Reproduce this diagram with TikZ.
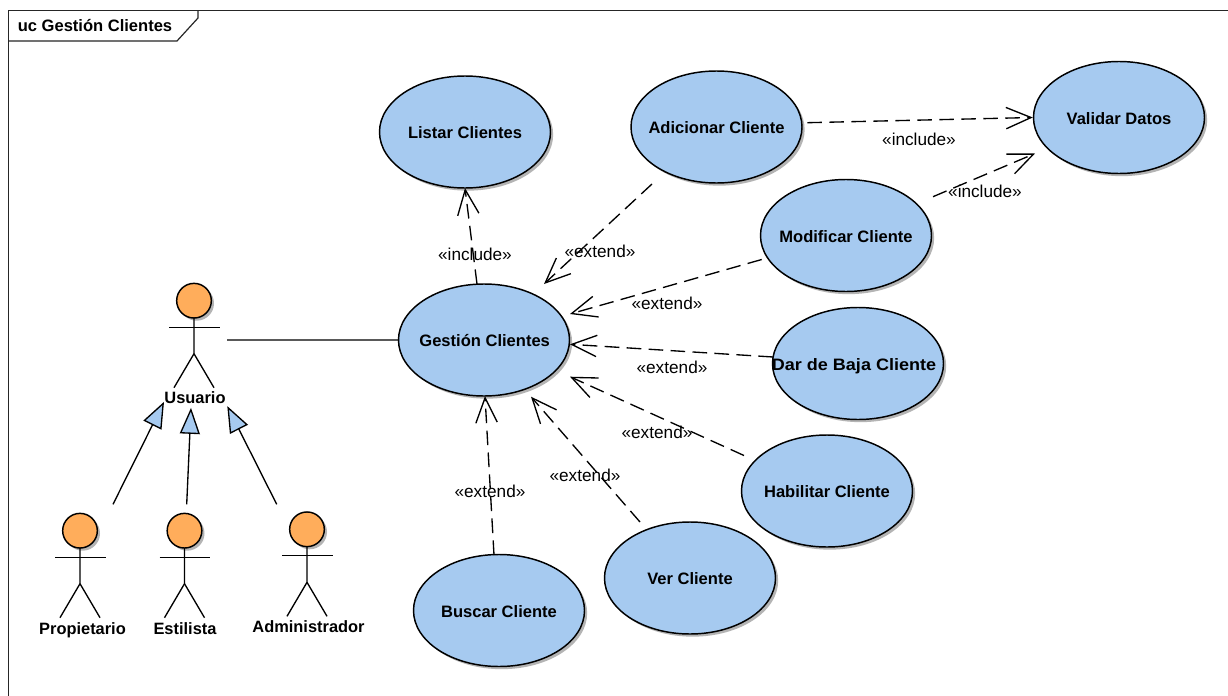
\documentclass[tikz,border=0pt]{standalone}
\usepackage{fontspec}
\setmainfont{Liberation Sans}
\usetikzlibrary{shapes.geometric,arrows.meta,shadows}
\definecolor{ucblue}{HTML}{A6CAF0}
\definecolor{ucorange}{HTML}{FFAD5B}
\definecolor{ucshadow}{HTML}{B4B4B4}
\tikzset{
  usecase/.style={shape=ellipse,draw=black,line width=1.1pt,fill=ucblue,minimum width=128.25pt,minimum height=84pt,inner sep=0pt,
    drop shadow={shadow xshift=2pt,shadow yshift=-2pt,fill=ucshadow,opacity=1},font=\fontsize{12.4pt}{14pt}\selectfont\bfseries},
  acthead/.style={shape=circle,draw=black,line width=1.1pt,fill=ucorange,minimum size=26pt,inner sep=0pt,
    drop shadow={shadow xshift=2pt,shadow yshift=-2pt,fill=ucshadow,opacity=1}},
  actlabel/.style={font=\fontsize{12.3pt}{14pt}\selectfont\bfseries,inner sep=0pt,anchor=base},
  stereo/.style={font=\fontsize{12.9pt}{14pt}\selectfont,inner sep=0pt},
  limb/.style={draw=black,line width=1pt},
  dep/.style={draw=black,line width=1pt,dash pattern=on 11pt off 5.5pt,-{Straight Barb[length=18.75pt,width=16pt,line width=1pt]}},
  gen/.style={draw=black,line width=1pt,-{Triangle[length=19.5pt,width=15pt,fill=ucblue,line width=1pt]}},
  assoc/.style={draw=black,line width=1pt},
  framel/.style={draw=black!85,line width=0.9pt}
}
\newcommand{\stick}[1]{%
  \draw[limb] ([shift={(0,17)}]#1.center) -- ([shift={(0,53)}]#1.center) -- ([shift={(-20,87)}]#1.center);
  \draw[limb] ([shift={(0,53)}]#1.center) -- ([shift={(20,87)}]#1.center);
  \draw[limb] ([shift={(-25,26.5)}]#1.center) -- ([shift={(25.5,26.5)}]#1.center);
}
\newcommand{\uctext}[2][0pt]{\makebox[0pt]{\hspace*{#1}\raisebox{-4.9pt}[0pt][0pt]{#2}}}
\begin{document}
\begin{tikzpicture}[x=0.75pt,y=-0.75pt]
\useasboundingbox (0,0) rectangle (1228,696);
\fill[white] (0,0) rectangle (1228,696);
% frame
\draw[framel] (1228,10.5) -- (8.5,10.5) -- (8.5,696);
\draw[framel] (8.5,41) -- (177,41) -- (198,18) -- (198,10.5);
\node[inner sep=0pt,font=\fontsize{12.4pt}{14pt}\selectfont\bfseries] (title) at (95,26) {uc Gestión Clientes};
% use cases
\node[usecase] (gestion) at (484,340) {\uctext[1pt]{Gestión Clientes}};
\node[usecase] (listar) at (465,132) {\uctext{Listar Clientes}};
\node[usecase] (adic) at (716.5,127) {\uctext{Adicionar Cliente}};
\node[usecase] (validar) at (1119,117.5) {\uctext{Validar Datos}};
\node[usecase] (modif) at (846,235.5) {\uctext{Modificar Cliente}};
\node[usecase] (baja) at (858,363.5) {\uctext[-6pt]{\scalebox{1.09}[1]{Dar de Baja Cliente}}};
\node[usecase] (habil) at (827,491) {\uctext{Habilitar Cliente}};
\node[usecase] (ver) at (690,578) {\uctext{Ver Cliente}};
\node[usecase] (buscar) at (499,610.5) {\uctext{Buscar Cliente}};
% actors
\node[acthead] (usuario) at (194,300.7) {};
\node[acthead] (prop) at (80,530.7) {};
\node[acthead] (esti) at (184.5,530.7) {};
\node[acthead] (admin) at (307,529.3) {};
\stick{usuario}
\stick{prop}
\stick{esti}
\stick{admin}
\node[actlabel] (lusuario) at (195,403.5) {Usuario};
\node[actlabel] (lprop) at (82.5,634.5) {Propietario};
\node[actlabel] (lesti) at (185,634.5) {Estilista};
\node[actlabel] (ladmin) at (308.5,632.5) {Administrador};
% generalizations
\draw[gen] ([shift={(33,-26.4)}]prop.center) -- ([shift={(-31,4.2)}]lusuario.center);
\draw[gen] ([shift={(2.2,-26.4)}]esti.center) -- ([shift={(-4,10.2)}]lusuario.center);
\draw[gen] ([shift={(-30.3,-25)}]admin.center) -- ([shift={(32.3,8.5)}]lusuario.center);
% association
\draw[assoc] ([shift={(33,39.3)}]usuario.center) -- (gestion.west);
% dependencies
\draw[dep] ([shift={(-7,-56)}]gestion.center) -- ([shift={(0,56)}]listar.center);
\draw[dep] ([shift={(-64.5,57)}]adic.center) -- ([shift={(60,-56)}]gestion.center);
\draw[dep] ([shift={(-84.3,24)}]modif.center) -- ([shift={(86,-26)}]gestion.center);
\draw[dep] ([shift={(-85,-6.5)}]baja.center) -- ([shift={(86,4.3)}]gestion.center);
\draw[dep] ([shift={(-83,-35.5)}]habil.center) -- ([shift={(86,36.7)}]gestion.center);
\draw[dep] ([shift={(-50,-56)}]ver.center) -- ([shift={(47,56.7)}]gestion.center);
\draw[dep] ([shift={(-5,-55.5)}]buscar.center) -- ([shift={(1,56)}]gestion.center);
\draw[dep] ([shift={(90.8,-4.3)}]adic.center) -- (validar.west);
\draw[dep] ([shift={(87,-38.8)}]modif.center) -- ([shift={(-84,36)}]validar.center);
% labels
\node[stereo] (s1) at (475,254) {«include»};
\node[stereo] (s2) at (600,251) {«extend»};
\node[stereo] (s3) at (667,303) {«extend»};
\node[stereo] (s4) at (672,367.5) {«extend»};
\node[stereo] (s5) at (657,432.5) {«extend»};
\node[stereo] (s6) at (585,475.5) {«extend»};
\node[stereo] (s7) at (490,491.5) {«extend»};
\node[stereo] (s8) at (919,139) {«include»};
\node[stereo] (s9) at (985,191.5) {«include»};
\end{tikzpicture}
\end{document}
